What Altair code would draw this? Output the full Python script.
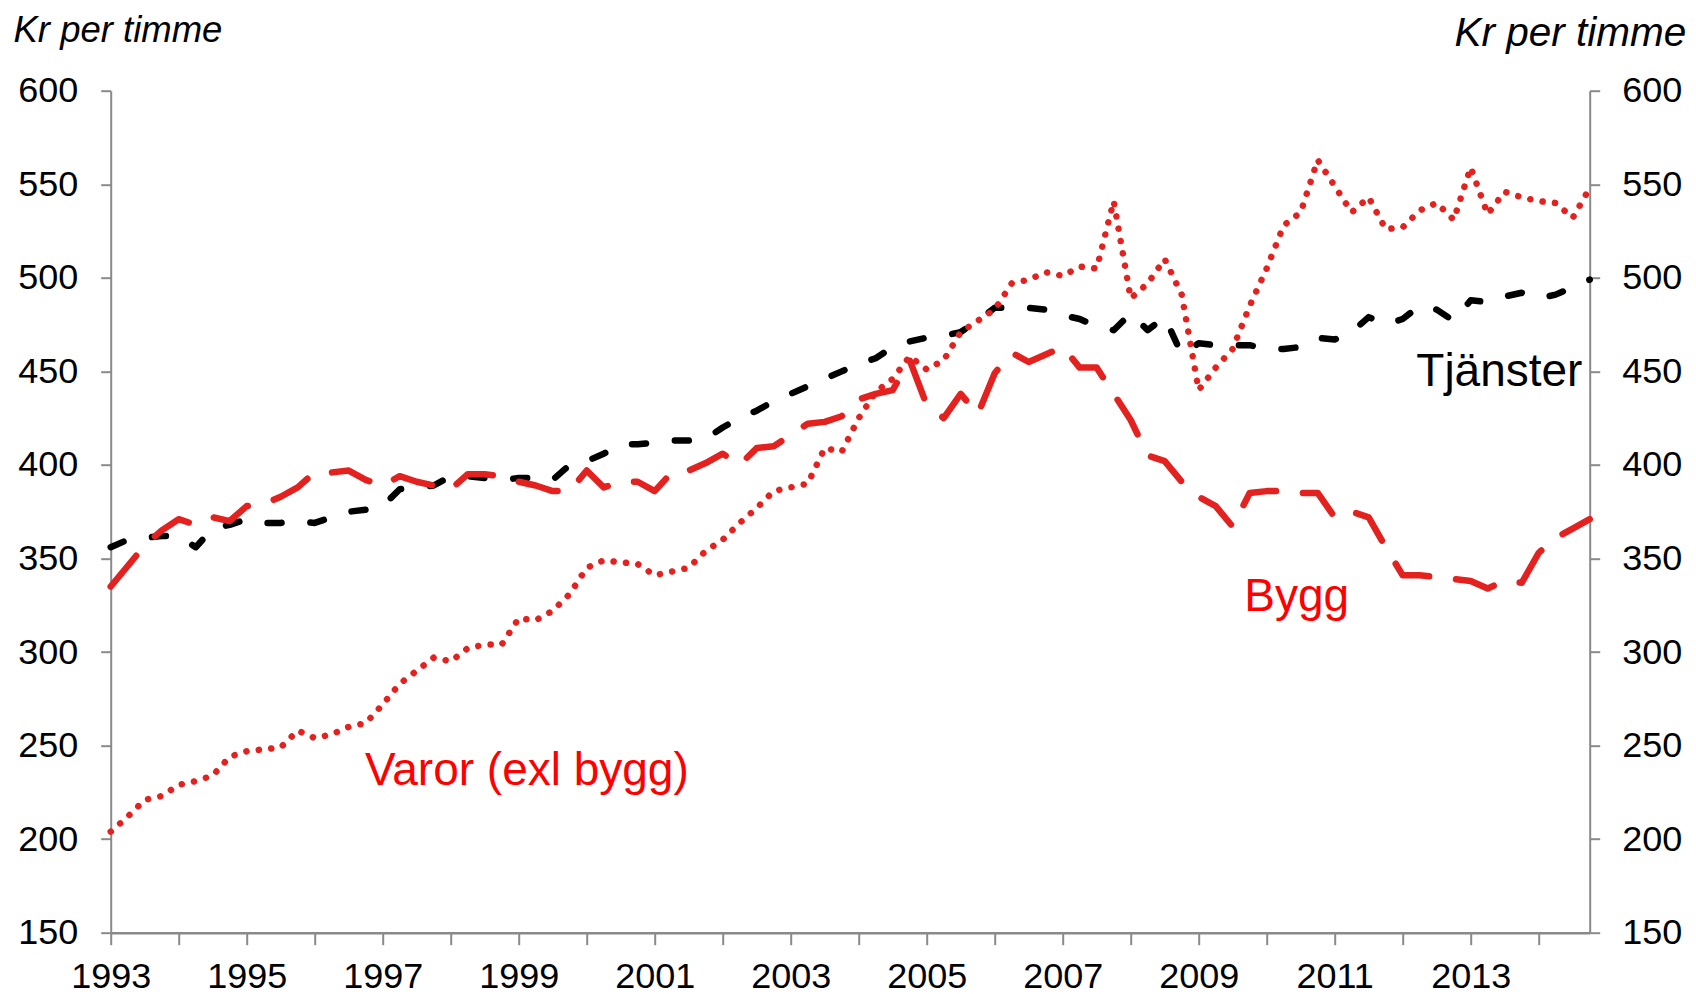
import altair as alt
import pandas as pd

# Quarterly observations 1993Q1 .. 2014Q4
quarters = [1993 + i / 4 for i in range(88)]

tjanster = [356, 360, 361, 362, 362, 356, 366, 368, 371, 369,
            369, 370, 369, 372, 375, 376, 378, 387, 388, 389,
            394, 394, 393, 392, 393, 393, 392, 400, 402, 406,
            411, 411, 412, 413, 413, 414, 420, 425, 429, 434,
            438, 442, 446, 450, 454, 457, 463, 466, 468, 469,
            471, 477, 484, 484, 484, 483, 480, 478, 474, 472,
            481, 472, 479, 459, 465, 464, 464, 464, 462, 462,
            463, 468, 467, 471, 479, 475, 478, 485, 483, 477,
            488, 487, 490, 492, 489, 491, 495, 499]

bygg = [335, 346, 357, 365, 371, 368, 372, 370, 378, 379,
        383, 388, 396, 396, 397, 392, 389, 394, 391, 389,
        387, 395, 395, 394, 391, 389, 386, 386, 397, 388,
        391, 391, 386, 396, 397, 401, 406, 400, 409, 410,
        416, 422, 423, 426, 435, 438, 440, 456, 432, 425,
        438, 427, 449, 460, 455, 459, 463, 452, 452, 438,
        424, 405, 402, 391, 383, 378, 367, 385, 386, 386,
        385, 385, 372, 375, 372, 356, 341, 341, 340, 339,
        338, 334, 338, 337, 353, 361, 366, 371]

varor = [204, 212, 221, 223, 229, 231, 234, 244, 247, 248,
         249, 258, 254, 256, 260, 262, 272, 283, 290, 297,
         295, 302, 304, 304, 318, 317, 322, 331, 345, 349,
         348, 347, 341, 343, 345, 354, 360, 369, 377, 386,
         388, 390, 409, 407, 425, 439, 446, 458, 451, 456,
         471, 477, 483, 497, 499, 503, 501, 506, 505, 541,
         489, 497, 510, 491, 440, 452, 462, 485, 505, 528,
         535, 563, 549, 535, 543, 526, 527, 536, 540, 531,
         559, 534, 546, 543, 541, 540, 532, 548]

label_text = ["Tjänster", "Bygg", "Varor (exl bygg)"]
label_t = [2012.2, 2009.67, 1996.74]
label_v = [442.3, 321.7, 229.1]
label_color = ["#000000", "#FF0000", "#FF0000"]

y_ticks = [150, 200, 250, 300, 350, 400, 450, 500, 550, 600]
x_ticks = list(range(1993, 2015))

FONT = "Liberation Sans"
RED_LINE = "#E3211F"
GRAY = "#8A8A8A"

df_tj = pd.DataFrame({"t": quarters, "v": tjanster})
df_by = pd.DataFrame({"t": quarters, "v": bygg})
df_va = pd.DataFrame({"t": quarters, "v": varor})
df_lab = pd.DataFrame({"t": label_t, "v": label_v, "txt": label_text, "col": label_color})

x_enc = alt.X(
    "t:Q",
    scale=alt.Scale(domain=[1993, 2014.75], nice=False, zero=False),
    axis=alt.Axis(
        values=x_ticks,
        format="d",
        labelExpr="(datum.value - 1993) % 2 == 0 && datum.value <= 2013 ? datum.label : ''",
        labelOverlap=False,
        labelFlush=False,
        labelFont=FONT,
        labelFontSize=36,
        labelColor="black",
        labelBaseline="alphabetic",
        labelPadding=43,
        tickSize=12,
        tickColor=GRAY,
        tickWidth=2,
        domainColor=GRAY,
        domainWidth=2.5,
        grid=False,
        title=None,
    ),
)

y_scale = alt.Scale(domain=[150, 600], nice=False, zero=False)


def y_axis(orient):
    if orient == "left":
        return alt.Axis(
            orient="left", values=y_ticks, grid=False,
            tickSize=10, tickColor=GRAY, tickWidth=2,
            domainColor=GRAY, domainWidth=2,
            labelFont=FONT, labelFontSize=36, labelColor="black",
            labelPadding=23, labelOverlap=False, labelFlush=False,
            title="Kr per timme", titleAngle=0, titleFont=FONT,
            titleFontSize=36.5, titleFontStyle="italic", titleFontWeight="normal",
            titleColor="black", titleAlign="left", titleBaseline="alphabetic",
            titleX=-97.7, titleY=-49.2,
        )
    return alt.Axis(
        orient="right", values=y_ticks, grid=False,
        tickSize=10, tickColor=GRAY, tickWidth=2,
        domainColor=GRAY, domainWidth=2,
        labelFont=FONT, labelFontSize=36, labelColor="black",
        labelPadding=22, labelOverlap=False, labelFlush=False,
        title="Kr per timme", titleAngle=0, titleFont=FONT,
        titleFontSize=40.5, titleFontStyle="italic", titleFontWeight="normal",
        titleColor="black", titleAlign="right", titleBaseline="alphabetic",
        titleX=96, titleY=-45.2,
    )


tj_layer = alt.Chart(df_tj).mark_line(
    color="black", strokeWidth=6.5, strokeDash=[14, 29],
    strokeCap="round", strokeJoin="round",
).encode(x=x_enc, y=alt.Y("v:Q", scale=y_scale, axis=y_axis("left")))

by_layer = alt.Chart(df_by).mark_line(
    color=RED_LINE, strokeWidth=6.5, strokeDash=[40, 27],
    strokeCap="round", strokeJoin="round",
).encode(x=x_enc, y=alt.Y("v:Q", scale=y_scale, axis=None))

va_layer = alt.Chart(df_va).mark_line(
    color=RED_LINE, strokeWidth=6.5, strokeDash=[0.1, 12.4],
    strokeCap="round", strokeJoin="round",
).encode(x=x_enc, y=alt.Y("v:Q", scale=y_scale, axis=y_axis("right")))

lab_layer = alt.Chart(df_lab).mark_text(
    font=FONT, fontSize=46, align="left", baseline="alphabetic",
).encode(
    x=x_enc,
    y=alt.Y("v:Q", scale=y_scale, axis=None),
    text="txt:N",
    color=alt.Color("col:N", scale=None),
)

chart = alt.layer(tj_layer, by_layer, va_layer, lab_layer).resolve_scale(
    y="independent"
).properties(
    width=1479,
    height=842,
    autosize=alt.AutoSizeParams(type="none"),
    padding={"left": 102.7, "top": 82.7, "right": 97.3, "bottom": 64},
    background="white",
).configure_view(stroke=None)

chart.save("out.html", embed_options={"renderer": "svg", "actions": False})
